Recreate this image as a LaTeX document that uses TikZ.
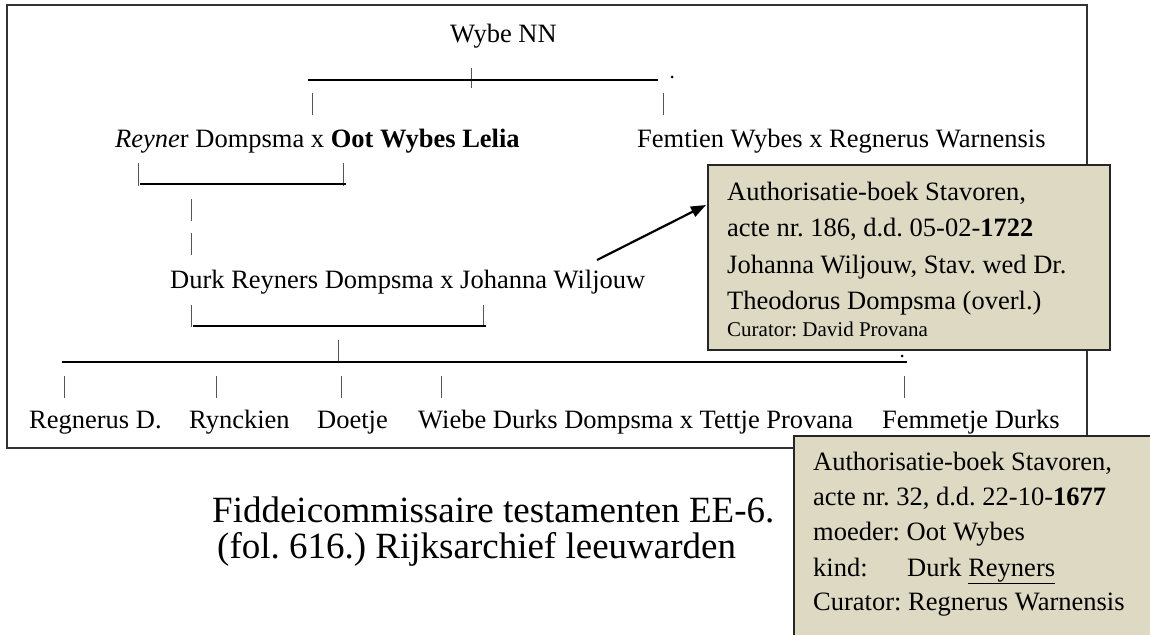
\documentclass[tikz,border=0pt]{standalone}
\usepackage{fontspec}
\setmainfont{Liberation Serif}
\usetikzlibrary{arrows.meta}
\definecolor{notetan}{HTML}{DDD9C3}
\definecolor{tickgray}{HTML}{555555}
\begin{document}
\frenchspacing
\begin{tikzpicture}[x=1pt,y=-1pt,
  txt/.style={anchor=base west, inner sep=0pt, font=\fontsize{26.5}{30}\selectfont},
  smalltxt/.style={anchor=base west, inner sep=0pt, font=\fontsize{21}{25}\selectfont},
  captxt/.style={anchor=base west, inner sep=0pt, font=\fontsize{37}{40}\selectfont},
  bar/.style={line width=2.2pt, black},
  tickln/.style={line width=1pt, tickgray},
  frameln/.style={line width=1.5pt, draw=black!80},
  dotmark/.style={circle, fill=black, inner sep=0pt, minimum size=3pt},
  note/.style={draw=black!85, line width=1.8pt, fill=notetan, inner sep=0pt, anchor=north west}]
\useasboundingbox (0,0) rectangle (1150,634);

% outer frame
\draw[frameln] (7,5) rectangle (1087,448);

% generation 0
\node[txt] (wybe) at (450,43) {Wybe NN};
\coordinate (w1) at (471,68); \coordinate (w2) at (471,88);
\draw[tickln] (w1) -- (w2);
\coordinate (g0l) at (308,80); \coordinate (g0r) at (658,80);
\draw[bar] (g0l) -- (g0r);
\node[dotmark] (dot0) at (672,77) {};
\coordinate (t1a) at (312,93); \coordinate (t1b) at (312,115);
\coordinate (t2a) at (663,93); \coordinate (t2b) at (663,115);
\draw[tickln] (t1a) -- (t1b);
\draw[tickln] (t2a) -- (t2b);

% generation 1
\node[txt] (reyner) at (115,147) {\textit{Reyne}r Dompsma x \textbf{Oot Wybes Lelia}};
\node[txt] (femtien) at (637,147) {Femtien Wybes x Regnerus Warnensis};
\coordinate (b1a) at (138,163); \coordinate (b1b) at (138,186);
\coordinate (b1c) at (343,163); \coordinate (b1d) at (343,186);
\draw[tickln] (b1a) -- (b1b);
\draw[tickln] (b1c) -- (b1d);
\coordinate (m1l) at (140,184); \coordinate (m1r) at (346,184);
\draw[bar] (m1l) -- (m1r);
\coordinate (d1a) at (191,199); \coordinate (d1b) at (191,221);
\coordinate (d2a) at (191,233); \coordinate (d2b) at (191,255);
\draw[tickln] (d1a) -- (d1b);
\draw[tickln] (d2a) -- (d2b);

% generation 2
\node[txt] (durk) at (170,288) {Durk Reyners Dompsma x Johanna Wiljouw};
\coordinate (b2a) at (191,305); \coordinate (b2b) at (191,327);
\coordinate (b2c) at (483,305); \coordinate (b2d) at (483,327);
\draw[tickln] (b2a) -- (b2b);
\draw[tickln] (b2c) -- (b2d);
\coordinate (m2l) at (193,326); \coordinate (m2r) at (486,326);
\draw[bar] (m2l) -- (m2r);
\coordinate (c0a) at (338,340); \coordinate (c0b) at (338,361);
\draw[tickln] (c0a) -- (c0b);
\coordinate (g2l) at (62,362); \coordinate (g2r) at (907,362);
\draw[bar] (g2l) -- (g2r);
\node[dotmark] (dot2) at (902,356) {};

% generation 3
\foreach \x/\n in {64/k1,216/k2,341/k3,441/k4,904/k5}{
  \coordinate (\n a) at (\x,376); \coordinate (\n b) at (\x,398);
  \draw[tickln] (\n a) -- (\n b);
}
\node[txt] (regnerus) at (29,428) {Regnerus D.};
\node[txt] (rynckien) at (189,428) {Rynckien};
\node[txt] (doetje) at (317,428) {Doetje};
\node[txt] (wiebe) at (418,428) {Wiebe Durks Dompsma x Tettje Provana};
\node[txt] (femmetje) at (882,428) {Femmetje Durks};

% note box 1
\node[note, minimum width=402pt, minimum height=185pt] (box1) at (707,164) {};
\node[txt] (n1l1) at (727,200) {Authorisatie-boek Stavoren,};
\node[txt] (n1l2) at (727,236) {acte nr. 186, d.d. 05-02-\textbf{1722}};
\node[txt] (n1l3) at (727,273) {Johanna Wiljouw, Stav. wed Dr.};
\node[txt] (n1l4) at (727,309) {Theodorus Dompsma (overl.)};
\node[smalltxt] (n1l5) at (727,336) {Curator: David Provana};

% arrow
\coordinate (arrtail) at (597,260);
\coordinate (arrtip) at (706,205);
\draw[bar, -{Triangle[length=15pt,width=11pt]}] (arrtail) -- (arrtip);

% caption
\node[captxt] (cap1) at (212,522) {Fiddeicommissaire testamenten EE-6.};
\node[captxt] (cap2) at (217,558) {(fol. 616.) Rijksarchief leeuwarden};

% note box 2
\node[note, minimum width=380pt, minimum height=230pt] (box2) at (793,435) {};
\node[txt] (n2l1) at (813,470) {Authorisatie-boek Stavoren,};
\node[txt] (n2l2) at (813,505) {acte nr. 32, d.d. 22-10-\textbf{1677}};
\node[txt] (n2l3) at (813,540) {moeder: Oot Wybes};
\node[txt] (n2l4) at (813,576) {kind:};
\node[txt] (n2l4b) at (907,576) {Durk \underline{Reyners}};
\node[txt] (n2l5) at (813,610) {Curator: Regnerus Warnensis};
\end{tikzpicture}
\end{document}
